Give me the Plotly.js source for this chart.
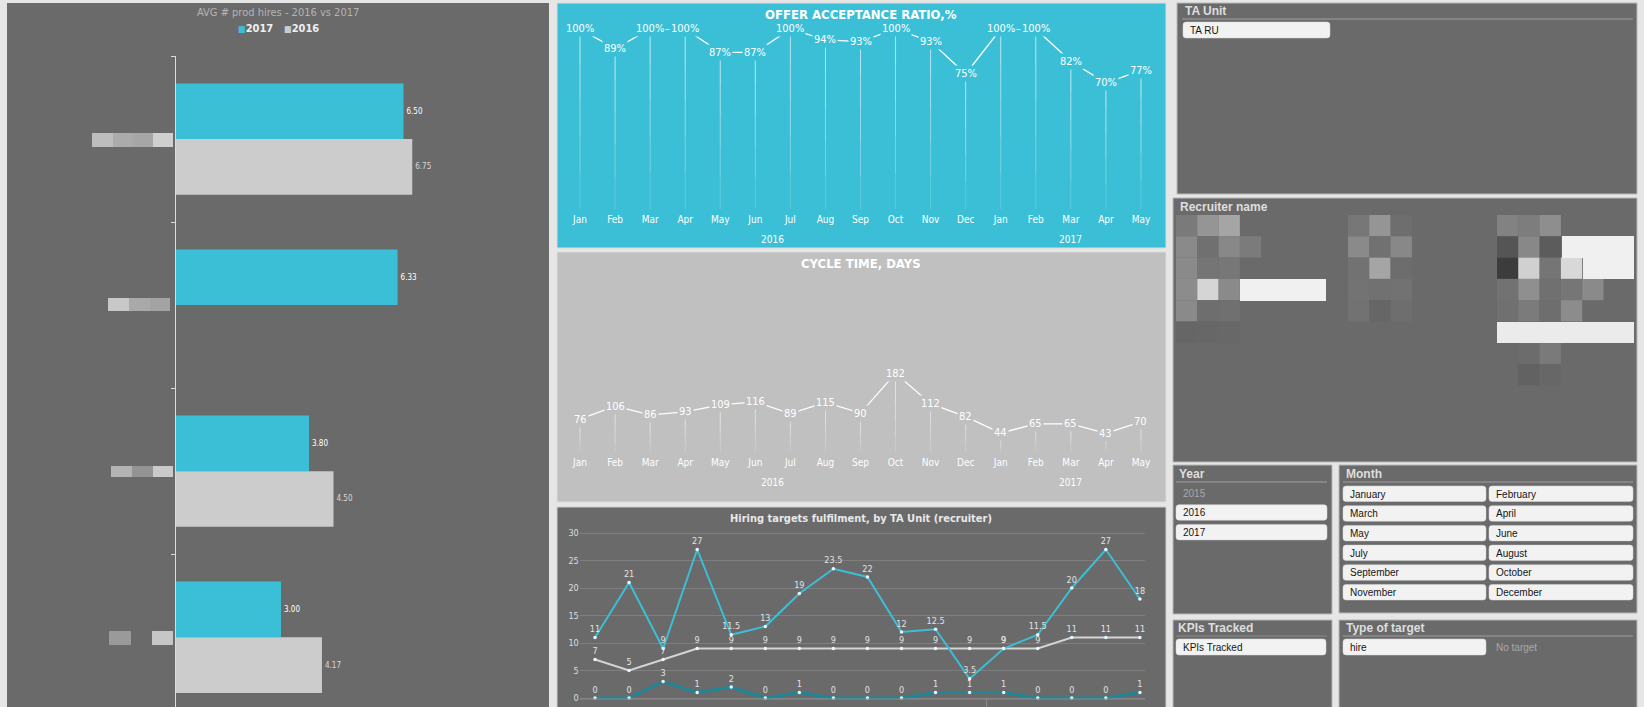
<!DOCTYPE html>
<html><head><meta charset="utf-8">
<script src="https://cdn.plot.ly/plotly-3.0.1.min.js"></script>
<style>html,body{margin:0;padding:0;background:#e6e6e6;overflow:hidden}#chart{width:1644px;height:707px}</style>
</head><body><div id="chart"></div>
<script>
// ---------------- DATA ----------------
const recruiters = ['R1','R2','R3','R4'];          // names are blurred in the original
const hires2017 = [6.50, 6.33, 3.80, 3.00];
const hires2016 = [6.75, null, 4.50, 4.17];
const seriesNames = ['2017','2016'];

const months = ['Jan','Feb','Mar','Apr','May','Jun','Jul','Aug','Sep','Oct','Nov','Dec','Jan','Feb','Mar','Apr','May'];
const monthYears = ['2016','2016','2016','2016','2016','2016','2016','2016','2016','2016','2016','2016','2017','2017','2017','2017','2017'];
const offerRatio = [100,89,100,100,87,87,100,94,93,100,93,75,100,100,82,70,77];
const cycleDays  = [76,106,86,93,109,116,89,115,90,182,112,82,44,65,65,43,70];
const hiresActual   = [11,21,9,27,11.5,13,19,23.5,22,12,12.5,3.5,9,11.5,20,27,18];
const hiresTarget   = [7,5,7,9,9,9,9,9,9,9,9,9,9,9,11,11,11];
const hiresNoTarget = [0,0,3,1,2,0,1,0,0,0,1,1,1,0,0,0,1];

const taUnits = ['TA RU'];
const yearOptions = ['2015','2016','2017'];
const yearExcluded = ['2015'];
const monthOptions = ['January','February','March','April','May','June','July','August','September','October','November','December'];
const kpiOptions = ['KPIs Tracked'];
const targetTypes = ['hire','No target'];
const targetExcluded = ['No target'];

// ---------------- HELPERS ----------------
const W=1644,H=707;
const fx=p=>p/W, fy=p=>1-p/H;
const condensed='"Liberation Sans Narrow","DejaVu Sans Condensed","Roboto Condensed","Open Sans",sans-serif';
const arial='"Liberation Sans",Arial,sans-serif';
const CYAN='#3bbfd6', GREY16='#cccccc', DARK='#6a6a6a';
function rect(x0,y0,x1,y1,fill,line){return {type:'rect',xref:'paper',yref:'paper',x0:fx(x0),x1:fx(x1),y0:fy(y1),y1:fy(y0),fillcolor:fill,line:line?{color:line,width:1}:{width:0},layer:'below'};}
function hline(x0,x1,y,c){return {type:'line',xref:'paper',yref:'paper',x0:fx(x0),x1:fx(x1),y0:fy(y),y1:fy(y),line:{color:c,width:1},layer:'below'};}
function rrect(x0,y0,x1,y1,r,fill){
  const P=(x,y)=>fx(x).toFixed(5)+','+fy(y).toFixed(5);
  const d='M '+P(x0+r,y0)+' L '+P(x1-r,y0)+' Q '+P(x1,y0)+' '+P(x1,y0+r)+' L '+P(x1,y1-r)+' Q '+P(x1,y1)+' '+P(x1-r,y1)+' L '+P(x0+r,y1)+' Q '+P(x0,y1)+' '+P(x0,y1-r)+' L '+P(x0,y0+r)+' Q '+P(x0,y0)+' '+P(x0+r,y0)+' Z';
  return {type:'path',xref:'paper',yref:'paper',path:d,fillcolor:fill,line:{color:'#d8d8d8',width:0.5},layer:'below'};
}
function txt(x,y,t,opt){return Object.assign({xref:'paper',yref:'paper',x:fx(x),y:fy(y),text:t,showarrow:false,xanchor:'left',yanchor:'middle',font:{family:arial,size:10,color:'#151515'}},opt||{});}

const shapes=[], ann=[];
// panels
shapes.push(rect(7,3,549,707,DARK));
shapes.push(rect(557,3,1166,248,CYAN,'#dcdcdc'));
shapes.push(rect(557,252,1166,502,'#c0c0c0','#dcdcdc'));
shapes.push(rect(557,507,1166,710,DARK,'#cfcfcf'));
shapes.push(rect(1177,3,1637,194,DARK,'#b8b8b8'));
shapes.push(rect(1173,198,1637,462,DARK,'#b8b8b8'));
shapes.push(rect(1173,465,1332,614,DARK,'#b8b8b8'));
shapes.push(rect(1339,465,1637,613,DARK,'#b8b8b8'));
shapes.push(rect(1173,620,1332,712,DARK,'#b8b8b8'));
shapes.push(rect(1339,620,1637,712,DARK,'#b8b8b8'));

// blurred category labels (pixelated in the original)
const blurBlocks=[
 [92,133,113,147,'#bdbdbd'],[113,133,133,147,'#ababab'],[133,133,153,147,'#a6a6a6'],[153,133,173,147,'#cfcfcf'],
 [108,298,129,311,'#c8c8c8'],[129,298,150,311,'#a9a9a9'],[150,298,170,311,'#a3a3a3'],
 [111,466,132,477,'#b3b3b3'],[132,466,153,477,'#939393'],[153,466,173,477,'#cacaca'],
 [109,631,131,645,'#9a9a9a'],[152,631,173,645,'#c6c6c6']
];
blurBlocks.forEach(b=>shapes.push(rect(b[0],b[1],b[2],b[3],b[4])));

// blurred recruiter names
const px=21.3;
const pix=[
 [1176,0,['#7a7a7a','#959595','#a5a5a5']],
 [1176,1,['#8a8a8a','#707070','#888888','#7b7b7b']],
 [1176,2,['#8a8a8a','#757575','#777777']],
 [1176,3,['#8c8c8c','#d5d5d5','#8a8a8a']],
 [1176,4,['#8a8a8a','#6e6e6e','#707070']],
 [1176,5,['#666666','#676767','#686868']],
 [1348,0,['#777777','#959595','#6e6e6e']],
 [1348,1,['#8a8a8a','#717171','#888888']],
 [1348,2,['#727272','#a5a5a5','#6d6d6d']],
 [1348,3,['#737373','#717171','#727272']],
 [1348,4,['#727272','#666666','#6e6e6e']],
 [1497,0,['#828282','#7d7d7d','#8e8e8e']],
 [1497,1,['#555555','#888888','#5c5c5c']],
 [1497,2,['#3c3c3c','#d0d0d0','#757575','#d8d8d8']],
 [1497,3,['#727272','#8f8f8f','#707070','#767676','#8a8a8a']],
 [1497,4,['#707070','#7b7b7b','#6e6e6e','#8c8c8c']],
 [1497,6,['#6a6a6a','#6c6c6c','#7a7a7a']],
 [1497,7,['#6a6a6a','#626262','#676767']]
];
pix.forEach(([x,r,cols])=>cols.forEach((c,i)=>shapes.push(rect(x+i*px,215+r*px,x+(i+1)*px,215+(r+1)*px,c))));
shapes.push(rect(1240,279,1326,301,'#f0f0f0'));
shapes.push(rect(1562,236,1634,258,'#f0f0f0'));
shapes.push(rect(1583,258,1634,279,'#f0f0f0'));
shapes.push(rect(1497,322,1634,343,'#ebebeb'));

// list boxes
const head={font:{family:arial,size:12,color:'#dedede',weight:'bold'}};
ann.push(txt(1183,11,'TA Unit',head));
shapes.push(hline(1182,1633,19,'#a0a0a0'));
taUnits.forEach((t,i)=>{shapes.push(rrect(1183,22+i*19.7,1330,38+i*19.7,3,'#f2f2f2'));ann.push(txt(1188,30+i*19.7,t));});

ann.push(txt(1178,207,'Recruiter name',head));

ann.push(txt(1177,474,'Year',head));
shapes.push(hline(1176,1327,482,'#a0a0a0'));
yearOptions.forEach((t,i)=>{const y0=485+i*19.7;
  if(yearExcluded.includes(t)){ann.push(txt(1181,y0+8,t,{font:{family:arial,size:10,color:'#a8a8a8'}}));}
  else{shapes.push(rrect(1176,y0,1327,y0+15.5,3,'#f2f2f2'));ann.push(txt(1181,y0+8,t));}
});

ann.push(txt(1344,474,'Month',head));
shapes.push(hline(1343,1633,482,'#a0a0a0'));
monthOptions.forEach((t,i)=>{const c=i%2,r=Math.floor(i/2);const x0=c?1489:1343,x1=c?1633:1486;const y0=486+r*19.7;
  shapes.push(rrect(x0,y0,x1,y0+15.5,3,'#f2f2f2'));ann.push(txt(x0+5,y0+8,t));});

ann.push(txt(1176,628,'KPIs Tracked',head));
shapes.push(hline(1176,1327,636,'#8a8a8a'));
kpiOptions.forEach((t,i)=>{shapes.push(rrect(1176,639,1326,655,3,'#f2f2f2'));ann.push(txt(1181,647,t));});

ann.push(txt(1344,628,'Type of target',head));
shapes.push(hline(1343,1633,636,'#a0a0a0'));
targetTypes.forEach((t,i)=>{const x0=i?1489:1343,x1=i?1633:1486;
  if(targetExcluded.includes(t)){ann.push(txt(x0+5,647,t,{font:{family:arial,size:10,color:'#a8a8a8'}}));}
  else{shapes.push(rrect(x0,639,x1,655,3,'#f2f2f2'));ann.push(txt(x0+5,647,t));}
});

// ---------------- CHART TITLES / LEGEND ----------------
ann.push(txt(278,13,'AVG # prod hires - 2016 vs 2017',{xanchor:'center',font:{family:condensed,size:11,color:'#b4b4b4'}}));
const legCols=[CYAN,GREY16];
seriesNames.forEach((n,i)=>ann.push(txt(i?282:275,29,'<span style="color:'+legCols[i]+';font-size:9px">■</span>'+n,
  {xanchor:i?'left':'right',font:{family:condensed,size:11,color:'#f0f0f0',weight:'bold'}})));
ann.push(txt(861,14,'OFFER ACCEPTANCE RATIO,%',{xanchor:'center',font:{family:condensed,size:13,color:'#ffffff',weight:'bold'}}));
ann.push(txt(861,263,'CYCLE TIME, DAYS',{xanchor:'center',font:{family:condensed,size:13,color:'#ffffff',weight:'bold'}}));
ann.push(txt(861,518,'Hiring targets fulfilment, by TA Unit (recruiter)',{xanchor:'center',font:{family:condensed,size:11,color:'#e8e8e8',weight:'bold'}}));

// ---------------- TRACES ----------------
const idx=months.map((_,i)=>i);
const traces=[];
traces.push({type:'bar',orientation:'h',name:seriesNames[0],y:recruiters,x:hires2017,xaxis:'x',yaxis:'y',
  marker:{color:CYAN},text:hires2017.map(v=>v==null?'':v.toFixed(2)),textposition:'outside',
  textfont:{family:condensed,size:8,color:'#ffffff'},cliponaxis:false,hoverinfo:'skip',showlegend:false});
traces.push({type:'bar',orientation:'h',name:seriesNames[1],y:recruiters,x:hires2016,xaxis:'x',yaxis:'y',
  marker:{color:GREY16},text:hires2016.map(v=>v==null?'':v.toFixed(2)),textposition:'outside',
  textfont:{family:condensed,size:8,color:'#d8d8d8'},cliponaxis:false,hoverinfo:'skip',showlegend:false});

// fading drop lines: overlapping partial error bars
function dropLines(vals,xa,ya){
  const out=[];const N=5;
  for(let k=0;k<N;k++){
    out.push({type:'scatter',mode:'markers',x:idx,y:vals,xaxis:xa,yaxis:ya,marker:{size:1,color:'rgba(0,0,0,0)'},
      error_y:{type:'data',symmetric:false,array:vals.map(()=>0),arrayminus:vals.map(v=>v*(1-k/N)),color:'rgba(255,255,255,0.17)',thickness:1,width:0},
      showlegend:false,hoverinfo:'skip',cliponaxis:false});
  }
  out.push({type:'scatter',mode:'lines',x:idx,y:vals,xaxis:xa,yaxis:ya,line:{color:'#ffffff',width:1.3},showlegend:false,hoverinfo:'skip',cliponaxis:false});
  return out;
}
traces.push(...dropLines(offerRatio,'x2','y2'));
traces.push(...dropLines(cycleDays,'x3','y3'));

offerRatio.forEach((v,i)=>ann.push({xref:'x2',yref:'y2',x:i,y:v,text:v+'%',showarrow:false,bgcolor:CYAN,borderpad:1,
  font:{family:condensed,size:11,color:'#ffffff'}}));
cycleDays.forEach((v,i)=>ann.push({xref:'x3',yref:'y3',x:i,y:v,text:String(v),showarrow:false,bgcolor:'#c0c0c0',borderpad:1,
  font:{family:condensed,size:11,color:'#ffffff'}}));

// year group labels
const yearList=[...new Set(monthYears)];
yearList.forEach(yr=>{
  const ids=idx.filter(i=>monthYears[i]===yr);const c=ids.reduce((a,b)=>a+b,0)/ids.length;
  ann.push({xref:'x2',yref:'paper',x:c,y:fy(239),yanchor:'middle',text:yr,showarrow:false,font:{family:condensed,size:10,color:'#ffffff'}});
  ann.push({xref:'x3',yref:'paper',x:c,y:fy(482),yanchor:'middle',text:yr,showarrow:false,font:{family:condensed,size:10,color:'#ffffff'}});
});

function hireLine(vals,col,w){
  return {type:'scatter',mode:'lines+markers+text',x:idx,y:vals,xaxis:'x4',yaxis:'y4',
    line:{color:col,width:w},marker:{size:3.5,color:'#e8f8fb'},text:vals.map(String),textposition:'top center',
    textfont:{family:condensed,size:9,color:'#e2e2e2'},showlegend:false,hoverinfo:'skip',cliponaxis:false};
}
traces.push(hireLine(hiresNoTarget,'#1d8797',3));
traces.push(hireLine(hiresTarget,'#d4d4d4',2));
traces.push(hireLine(hiresActual,CYAN,2));

// hiring chart x-axis frame (cut off at bottom of the screen)
shapes.push({type:'line',xref:'x4',yref:'paper',x0:-0.5,x1:16.5,y0:fy(699),y1:fy(699),line:{color:'#8c8c8c',width:1}});
shapes.push({type:'line',xref:'x4',yref:'paper',x0:-0.5,x1:-0.5,y0:fy(699),y1:0,line:{color:'#8c8c8c',width:1}});
shapes.push({type:'line',xref:'x4',yref:'paper',x0:16.5,x1:16.5,y0:fy(699),y1:0,line:{color:'#8c8c8c',width:1}});
for(let i=1;i<idx.length;i++){ if(monthYears[i]!==monthYears[i-1]){
  shapes.push({type:'line',xref:'x4',yref:'paper',x0:i-0.5,x1:i-0.5,y0:fy(699),y1:0,line:{color:'#8c8c8c',width:1}});}}

// ---------------- LAYOUT ----------------
const monthAxis=(d)=>({domain:d,range:[-0.5,16.5],tickmode:'array',tickvals:idx,ticktext:months,ticks:'',
  tickfont:{family:condensed,size:10,color:'#ffffff'},showgrid:false,zeroline:false,showline:false,ticklabelstandoff:3,fixedrange:true});
const layout={
  width:W,height:H,margin:{l:0,r:0,t:0,b:0},paper_bgcolor:'#e6e6e6',plot_bgcolor:'rgba(0,0,0,0)',
  barmode:'group',bargap:0.33,bargroupgap:0,showlegend:false,
  xaxis:{domain:[fx(176),fx(540)],range:[0,10.4],visible:false,anchor:'y'},
  yaxis:{domain:[0,fy(56)],type:'category',categoryorder:'array',categoryarray:recruiters,range:[3.42,-0.5],
    showline:true,linecolor:'#dcdcdc',linewidth:1,ticks:'outside',tickson:'boundaries',ticklen:4,tickcolor:'#dcdcdc',
    showticklabels:false,showgrid:false,zeroline:false,anchor:'x'},
  xaxis2:Object.assign(monthAxis([fx(562.5),fx(1158.5)]),{anchor:'y2'}),
  yaxis2:{domain:[fy(209),fy(29)],range:[0,100],visible:false,anchor:'x2'},
  xaxis3:Object.assign(monthAxis([fx(562.5),fx(1158.5)]),{anchor:'y3'}),
  yaxis3:{domain:[fy(452),fy(277)],range:[0,(452-277)/0.432],visible:false,anchor:'x3'},
  xaxis4:{domain:[fx(579.7),fx(1145)],range:[-0.45,16.15],showticklabels:false,showgrid:false,zeroline:false,showline:false,anchor:'y4'},
  yaxis4:{domain:[0,fy(527)],range:[-(707-698)/5.5,(698-527)/5.5],tick0:0,dtick:5,gridcolor:'rgba(255,255,255,0.14)',
    tickfont:{family:condensed,size:9,color:'#dddddd'},zeroline:false,showline:false,anchor:'x4'},
  shapes:shapes,annotations:ann
};
Plotly.newPlot('chart',traces,layout,{displayModeBar:false,staticPlot:true});
</script></body></html>
